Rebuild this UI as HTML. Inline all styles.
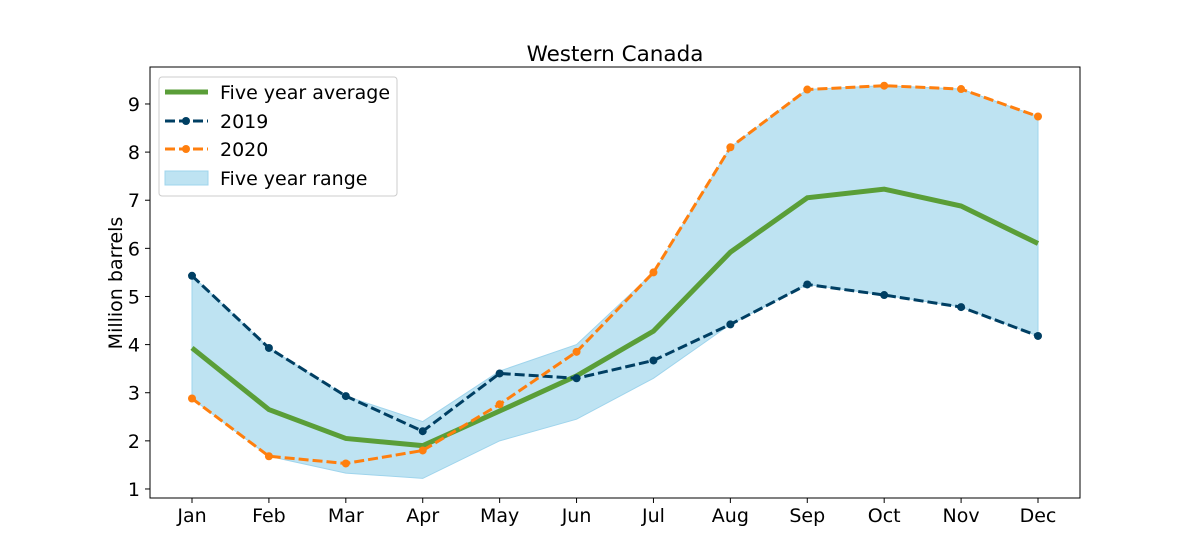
<!DOCTYPE html>
<html><head><meta charset="utf-8"><style>body{margin:0;background:#fff}svg{display:block;font-family:"DejaVu Sans","Liberation Sans",sans-serif}</style></head>
<body>
<svg id="chart" width="1200" height="560">
<text x="615" y="61" font-size="21.5" text-anchor="middle" fill="#000">Western Canada</text>
<g id="plot"></g>
<rect x="150" y="67" width="930" height="431" fill="none" stroke="#000" stroke-width="1"/>
<text transform="translate(122,283) rotate(-90)" font-size="19" text-anchor="middle">Million barrels</text>
<g>
<rect x="159" y="77" width="238" height="119" rx="3" fill="#fff" fill-opacity="0.8" stroke="#ccc"/>
<line x1="165" y1="92" x2="208" y2="92" stroke="#5a9e38" stroke-width="5"/>
<text x="220" y="99" font-size="19">Five year average</text>
<line x1="165" y1="121" x2="208" y2="121" stroke="#003f63" stroke-width="3" stroke-dasharray="10,4"/>
<circle cx="186" cy="121" r="4" fill="#003f63"/>
<text x="220" y="128" font-size="19">2019</text>
<line x1="165" y1="149" x2="208" y2="149" stroke="#ff7f0e" stroke-width="3" stroke-dasharray="10,4"/>
<circle cx="186" cy="149" r="4" fill="#ff7f0e"/>
<text x="220" y="156" font-size="19">2020</text>
<rect x="165" y="171" width="43" height="14" fill="#bee3f2" stroke="#9fd4ec"/>
<text x="220" y="185" font-size="19">Five year range</text>
</g>
</svg>
<script>
const months=["Jan","Feb","Mar","Apr","May","Jun","Jul","Aug","Sep","Oct","Nov","Dec"];
const avg=[3.93,2.65,2.05,1.9,2.62,3.35,4.28,5.92,7.05,7.23,6.88,6.1];
const y2019=[5.43,3.93,2.93,2.2,3.4,3.3,3.67,4.42,5.25,5.03,4.78,4.18];
const y2020=[2.88,1.68,1.53,1.8,2.76,3.85,5.5,8.1,9.3,9.38,9.31,8.74];
const rangeMax=[5.43,3.93,2.93,2.4,3.45,4.0,5.5,8.1,9.3,9.38,9.31,8.74];
const rangeMin=[2.88,1.68,1.33,1.22,2.0,2.45,3.3,4.42,5.25,5.03,4.78,4.18];
const yTicks=[1,2,3,4,5,6,7,8,9];
const NS="http://www.w3.org/2000/svg";
const X=i=>192+i*(1038-192)/11;
const Y=v=>537.1-v*48.125;
const g=document.getElementById('plot');
function mk(t,a){const e=document.createElementNS(NS,t);for(const k in a)e.setAttribute(k,a[k]);g.appendChild(e);return e;}
let d=rangeMax.map((v,i)=>(i?'L':'M')+X(i)+','+Y(v)).join('')+rangeMin.map((v,i)=>i).reverse().map(i=>'L'+X(i)+','+Y(rangeMin[i])).join('')+'Z';
const band=mk('path',{d:d,fill:'#bee3f2',stroke:'#9fd4ec','stroke-width':1});


yTicks.forEach(t=>{
 const l=mk('line',{x1:145,x2:150,y1:Y(t),y2:Y(t),stroke:'#000'});
 
 
 const tx=mk('text',{x:140,y:Y(t)+7,'font-size':19,'text-anchor':'end'});tx.textContent=t;
 
 
});
months.forEach((m,i)=>{
 const l=mk('line',{x1:X(i),x2:X(i),y1:498,y2:503,stroke:'#000'});
 
 
 const tx=mk('text',{x:X(i),y:522,'font-size':19,'text-anchor':'middle'});tx.textContent=m;
 
 
});
function line(arr,col,w,dash,name,markers){
 const p=mk('polyline',{points:arr.map((v,i)=>X(i)+','+Y(v)).join(' '),fill:'none',stroke:col,'stroke-width':w,'stroke-dasharray':dash||'none'});
 
 
 if(markers)arr.forEach((v,i)=>{const c=mk('circle',{cx:X(i),cy:Y(v),r:4,fill:col});
  
  });
}
line(avg,'#5a9e38',5,null,'five-year-average',false);
line(y2019,'#003f63',3,'10,4','series-2019',true);
line(y2020,'#ff7f0e',3,'10,4','series-2020',true);
</script>
</body></html>
